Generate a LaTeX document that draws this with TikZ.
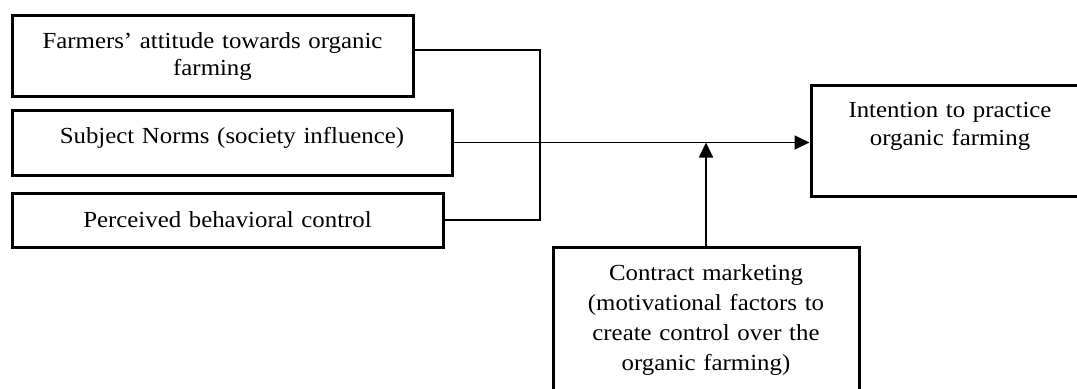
\documentclass[tikz,border=0pt]{standalone}
\usepackage{fontspec}
\setmainfont{Liberation Serif}[FakeStretch=1.08]
\usetikzlibrary{arrows.meta}

\begin{document}
\begin{tikzpicture}[x=0.5pt,y=-0.5pt,>={Triangle[length=7.5pt,width=7pt]},font=\fontsize{11.5}{13.5}\selectfont]
        \tikzstyle{factor}=[rectangle,draw,line width=1.5pt,inner sep=0pt,align=center,anchor=base]
        \tikzstyle{link}=[line width=0.9pt]
        \useasboundingbox (0,0) rectangle (1077,388);
        \clip (0,0) rectangle (1077,388);
        % the three factors on the left
        \node[factor,text width=200.5pt,text height=16.5pt,text depth=24pt] (att) at (212.5,48) {Farmers' attitude towards organic\\farming};
        \node[factor,text width=220pt,text height=16.5pt,text depth=16pt] (norm) at (232,143) {Subject Norms (society influence)};
        \node[factor,text width=215.5pt,text height=17pt,text depth=10pt] (pbc) at (227.5,227) {Perceived behavioral control};
        % outcome and moderator
        \node[factor,text width=139pt,text height=16pt,text depth=39.5pt,font=\fontsize{11.5}{14}\selectfont] (intent) at (950,117) {Intention to practice\\organic farming};
        \node[factor,text width=153pt,text height=16.5pt,text depth=60pt,font=\fontsize{11.5}{15}\selectfont] (contract) at (706,280) {Contract marketing\\(motivational factors to\\create control over the\\organic farming)};
        \coordinate (brtop) at (540,50);
        \coordinate (brbot) at (540,220);
        \draw[link] (att.east |- brtop) -- (brtop) -- (brbot) -- (pbc.east |- brbot);
        \draw[link,->] (norm.east) -- (norm.east -| intent.west);
        \draw[link,->] (contract.north) -- (contract.north |- norm.east);
\end{tikzpicture}
\end{document}
